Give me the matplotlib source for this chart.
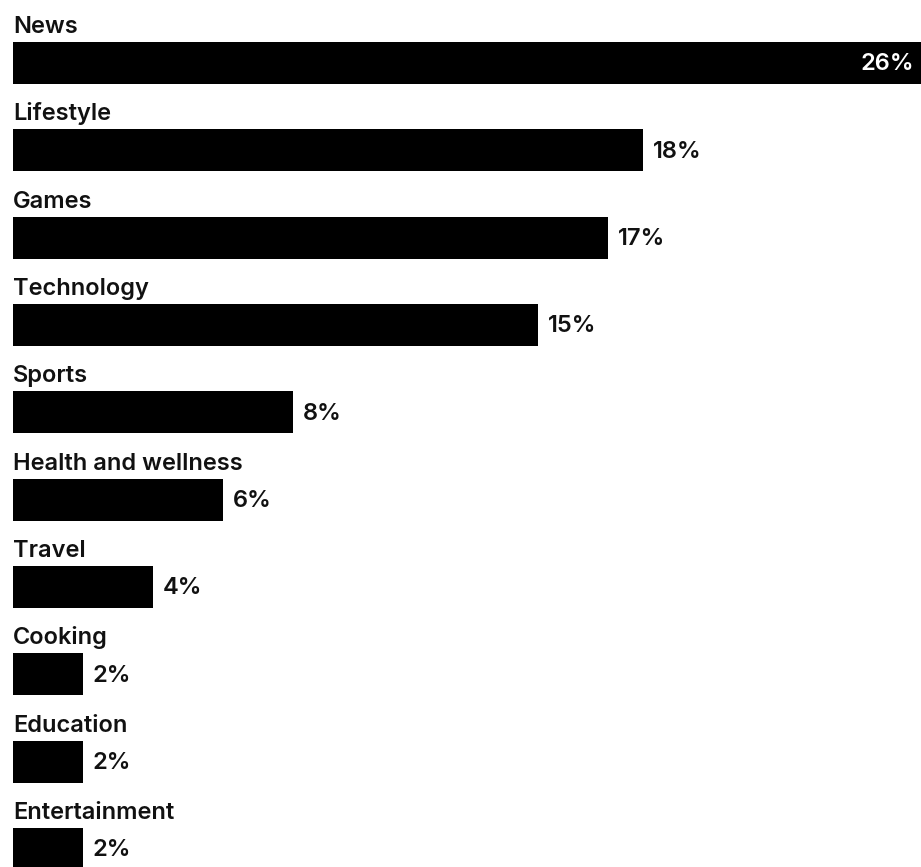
import matplotlib
matplotlib.use("Agg")
import matplotlib.pyplot as plt

categories = ["News", "Lifestyle", "Games", "Technology", "Sports",
              "Health and wellness", "Travel", "Cooking", "Education", "Entertainment"]
values = [26, 18, 17, 15, 8, 6, 4, 2, 2, 2]
value_labels = ["26%", "18%", "17%", "15%", "8%", "6%", "4%", "2%", "2%", "2%"]

W, H = 921, 867
fig = plt.figure(figsize=(W / 100, H / 100), dpi=100)
ax = fig.add_axes([0, 0, 1, 1])
px_per_unit = 35.0
x0 = 13
ax.set_xlim(-x0 / px_per_unit, (W - x0) / px_per_unit)
pitch = 87.33
first_center = 63
ax.set_ylim((H - first_center) / pitch, -first_center / pitch)
ax.axis("off")

cat_font = dict(family=["Inter", "DejaVu Sans"], fontsize=17, fontweight="semibold")
val_font = dict(family=["Inter", "DejaVu Sans"], fontsize=17, fontweight="semibold")
xmax = ax.get_xlim()[1]
ypos = list(range(len(categories)))
ax.barh(ypos, values, height=42 / pitch, left=0, color="black")
for i, (c, v, lab) in enumerate(zip(categories, values, value_labels)):
    ax.text(0, i - 30 / pitch, c, ha="left", va="baseline", color="#111111", **cat_font)
    if v >= xmax:
        ax.annotate(lab, xy=(xmax, i + 7.5 / pitch), xytext=(-5, 0), textcoords="offset points",
                    ha="right", va="baseline", color="white", **val_font)
    else:
        ax.annotate(lab, xy=(v, i + 7.5 / pitch), xytext=(7, 0), textcoords="offset points",
                    ha="left", va="baseline", color="#111111", **val_font)

fig.savefig("out.png", dpi=100, facecolor="white")
